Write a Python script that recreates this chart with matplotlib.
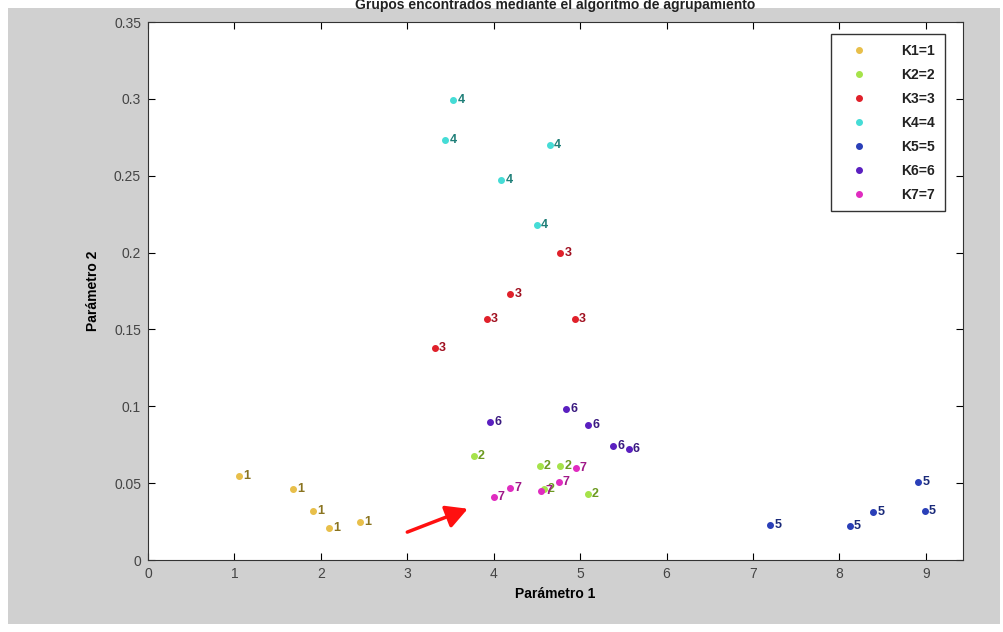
import matplotlib.pyplot as plt
from matplotlib.patches import Rectangle

plt.rcParams['font.family'] = ['Liberation Sans', 'DejaVu Sans']

# grupos (K) e coordenadas
grupos = ['K1=1', 'K2=2', 'K3=3', 'K4=4', 'K5=5', 'K6=6', 'K7=7']
rotulos = ['1', '2', '3', '4', '5', '6', '7']
cores = ['#e8bf4a', '#a6e34a', '#e0202a', '#45dcd6', '#2a3fb8', '#5a1fc0', '#e02cc0']
cores_texto = ['#8a7420', '#6c9a20', '#a01020', '#1f7f78', '#1a2a7a', '#3a1a80', '#a01888']

x_k1 = [1.05, 1.68, 1.91, 2.09, 2.45]
y_k1 = [0.0545, 0.046, 0.032, 0.021, 0.025]
x_k2 = [3.77, 4.53, 4.77, 4.58, 5.09]
y_k2 = [0.0675, 0.061, 0.061, 0.046, 0.043]
x_k3 = [4.77, 4.19, 3.92, 4.94, 3.32]
y_k3 = [0.200, 0.173, 0.157, 0.157, 0.138]
x_k4 = [3.53, 3.44, 4.65, 4.09, 4.50]
y_k4 = [0.299, 0.273, 0.270, 0.247, 0.218]
x_k5 = [7.20, 8.12, 8.39, 8.91, 8.99]
y_k5 = [0.023, 0.022, 0.031, 0.051, 0.032]
x_k6 = [3.96, 4.84, 5.09, 5.38, 5.56]
y_k6 = [0.090, 0.098, 0.088, 0.074, 0.072]
x_k7 = [4.00, 4.19, 4.55, 4.75, 4.95]
y_k7 = [0.041, 0.047, 0.045, 0.051, 0.060]

xs = [x_k1, x_k2, x_k3, x_k4, x_k5, x_k6, x_k7]
ys = [y_k1, y_k2, y_k3, y_k4, y_k5, y_k6, y_k7]

# seta vermelha (cauda -> ponta)
seta_inicio = (2.97, 0.0175)
seta_fim = (3.73, 0.034)

xticks = [0, 1, 2, 3, 4, 5, 6, 7, 8, 9]
yticks = [0, 0.05, 0.1, 0.15, 0.2, 0.25, 0.3, 0.35]
yticklabels = ['0', '0.05', '0.1', '0.15', '0.2', '0.25', '0.3', '0.35']

fig = plt.figure(figsize=(10.04, 6.32), dpi=100, facecolor='white')
fig.patches.append(Rectangle((8 / 1004, 8 / 632), 992 / 1004, 616 / 632,
                             transform=fig.transFigure, facecolor='#d0d0d0',
                             edgecolor='none', zorder=-1))

ax = fig.add_axes([148 / 1004, 72 / 632, 815 / 1004, 538 / 632])
ax.set_facecolor('white')

for i in range(len(grupos)):
    ax.plot(xs[i], ys[i], 'o', color=cores[i], markersize=4, label=grupos[i], zorder=3)
    for xv, yv in zip(xs[i], ys[i]):
        ax.annotate(rotulos[i], (xv, yv), xytext=(3, 0), textcoords='offset points',
                    va='center', ha='left', fontsize=9, fontweight='bold',
                    color=cores_texto[i], zorder=4)

ax.annotate('', xy=seta_fim, xytext=seta_inicio,
            arrowprops=dict(arrowstyle='-|>,head_length=1.3,head_width=0.7',
                            color='#ff1010', lw=2.5))

ax.set_xlim(0, 9.43)
ax.set_ylim(0, 0.35)
ax.set_xticks(xticks)
ax.set_yticks(yticks)
ax.set_yticklabels(yticklabels)
ax.tick_params(direction='in', top=True, right=True, length=5, labelsize=10,
               labelcolor='#444444', pad=5)
for s in ax.spines.values():
    s.set_color('#333333')

ax.set_xlabel('Parámetro 1', fontsize=10, fontweight='bold', labelpad=4)
ax.set_ylabel('Parámetro 2', fontsize=10, fontweight='bold', labelpad=10)

fig.text(555 / 1004, 1 - 5 / 632, 'Grupos encontrados mediante el algoritmo de agrupamiento',
         ha='center', va='center', fontsize=10, fontweight='bold', color='#222222')

leg = ax.legend(loc='upper right', bbox_to_anchor=(0.978, 0.978), fontsize=10,
                frameon=True, fancybox=False, edgecolor='black', handletextpad=1.8,
                markerfirst=True, borderpad=0.7, labelspacing=0.72, handlelength=2.6,
                borderaxespad=0)
leg.get_frame().set_linewidth(1.0)
for t in leg.get_texts():
    t.set_fontweight('bold')
    t.set_color('#222222')

fig.savefig('out.png', dpi=100, facecolor=fig.get_facecolor())
